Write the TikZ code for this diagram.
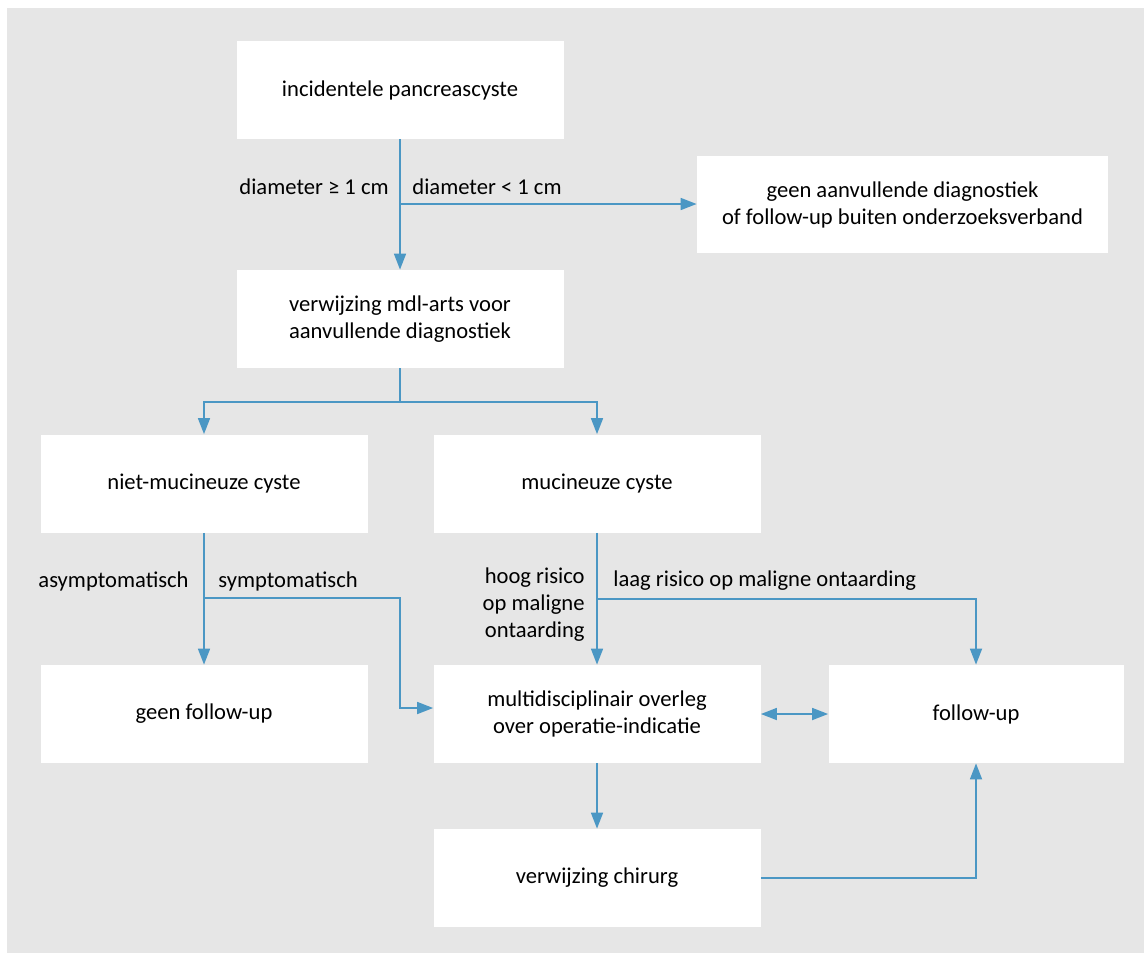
\documentclass[tikz,border=0pt]{standalone}
\usepackage{fontspec}
\setmainfont{Carlito}
\usepackage{xcolor}
\usetikzlibrary{positioning,calc,arrows.meta}
\definecolor{lijn}{RGB}{75,151,196}
\definecolor{achter}{RGB}{230,230,230}
\tikzset{
  blok/.style={fill=white, minimum width=163.5pt, minimum height=49pt, inner sep=0pt, align=center},
  pijl/.style={draw=lijn, line width=0.85pt, ->},
  tekst/.style={inner sep=0pt}
}

\begin{document}
\begin{tikzpicture}[x=0.5pt,y=-0.5pt,font=\fontsize{11.3}{13.5}\selectfont,>={Triangle[length=8pt,width=6pt]}]
    \useasboundingbox (0,0) rectangle (1144,953);
    \fill[white] (0,0) rectangle (1144,953);
    \fill[achter] (7,8) rectangle (1144,953);

    \node[blok] (inc) at (400,90) {incidentele pancreascyste};
    \node[blok, minimum width=205.5pt, minimum height=48.5pt] (geen) at (902.5,204.5) {geen aanvullende diagnostiek\\of follow-up buiten onderzoeksverband};
    \node[blok] (mdl) at (400,319) {verwijzing mdl-arts voor\\aanvullende diagnostiek};
    \node[blok] (niet) at (204,483.5) {niet-mucineuze cyste};
    \node[blok] (muc) at (597,483.5) {mucineuze cyste};
    \node[blok] (gfu) at (204,714) {geen follow-up};
    \node[blok] (mdo) at (597,714) {multidisciplinair overleg\\over operatie-indicatie};
    \node[blok, minimum width=147.5pt] (fu) at (976,714) {follow-up};
    \node[blok] (chir) at (597,878) {verwijzing chirurg};

    \foreach \a/\b in {inc/mdl, niet/gfu, muc/mdo, mdo/chir} {
        \draw[pijl] (\a) -- (\b);
    }
    \coordinate (s1) at (400,204);
    \coordinate (s2) at (400,402);
    \coordinate (s3) at (204,598);
    \coordinate (s4) at (597,599);
    \coordinate (k3) at (400,708);

    \draw[pijl] (s1) -- (geen.west |- s1);
    \draw[pijl] (mdl) -- (s2) -| (niet);
    \draw[pijl] (s2) -| (muc);
    \draw[pijl] (s3) -| (k3) -- (k3 -| mdo.west);
    \draw[pijl] (s4) -| (fu);
    \draw[pijl, <->] (mdo) -- (fu);
    \draw[pijl] (chir) -| (fu);

    \node[tekst, anchor=base east] (groot) at (389,194) {diameter ≥ 1 cm};
    \node[tekst, anchor=base west] (klein) at (412,194) {diameter < 1 cm};
    \node[tekst, anchor=base east] (asym) at (189,587) {asymptomatisch};
    \node[tekst, anchor=base west] (sym) at (218,587) {symptomatisch};
    \node[tekst, anchor=east, align=right] (hoog) at (585,605) {hoog risico\\op maligne\\ontaarding};
    \node[tekst, anchor=base west] (laag) at (613,586) {laag risico op maligne ontaarding};
\end{tikzpicture}
\end{document}
